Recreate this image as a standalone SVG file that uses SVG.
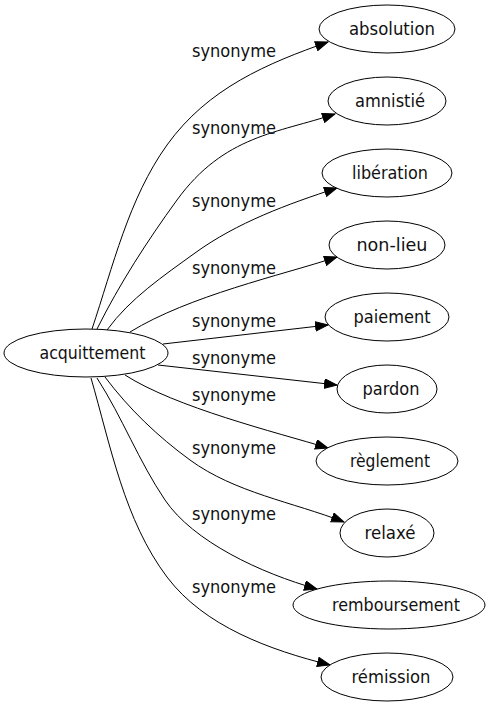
<svg xmlns="http://www.w3.org/2000/svg" width="487" height="707" viewBox="0 0 487 707">
<style>
  .node ellipse { fill: #ffffff; stroke: #000000; stroke-width: 1; }
  .node text, .lbl { font-family: "DejaVu Sans Condensed", "DejaVu Sans", sans-serif; font-size: 18px; fill: #111111; text-anchor: middle; }
  .edge { fill: none; stroke: #000000; stroke-width: 1; marker-end: url(#arr); }
</style>
<defs>
  <marker id="arr" markerWidth="15" markerHeight="11" refX="13" refY="5" orient="auto" markerUnits="userSpaceOnUse">
    <path d="M0.5,0.3 L13,5 L0.5,9.7 Z" fill="#000000" stroke="#000000" stroke-width="1"/>
  </marker>
</defs>
<rect x="0" y="0" width="487" height="707" fill="#ffffff"/>
<g id="connectors">
  <path class="edge" d="M92,329 C113,266.5 128.5,198.7 167,145 C207.9,88 267.7,63.2 328,42"/>
  <path class="edge" d="M97,329 C119.8,283.4 147,241.3 177,200 C224,135.3 278,133 335,114"/>
  <path class="edge" d="M107,330 C130,298.4 163.4,275.9 195,253 C237,222.5 287.6,204.1 337,188"/>
  <path class="edge" d="M130,332 C189.5,295.6 280,275.6 337,257"/>
  <path class="edge" d="M163,344 L328,325"/>
  <path class="edge" d="M158,365 L337,385"/>
  <path class="edge" d="M125,375 C175.4,407.4 275.4,432.1 328,448"/>
  <path class="edge" d="M105,377 C129,409 157.7,436.4 190,460 C234.4,492.5 293,502.2 344,522"/>
  <path class="edge" d="M97,378 C122.4,417.5 138.7,461.1 165,500 C193,541.4 260.4,573.1 317,589"/>
  <path class="edge" d="M91,378 C110.7,446.2 124.3,520.3 167,577 C204.3,626.5 270,650 330,665"/>
  <text class="lbl" x="234" y="57" textLength="84" lengthAdjust="spacingAndGlyphs">synonyme</text>
  <text class="lbl" x="234" y="134" textLength="84" lengthAdjust="spacingAndGlyphs">synonyme</text>
  <text class="lbl" x="234" y="207" textLength="84" lengthAdjust="spacingAndGlyphs">synonyme</text>
  <text class="lbl" x="234" y="274" textLength="84" lengthAdjust="spacingAndGlyphs">synonyme</text>
  <text class="lbl" x="234" y="327" textLength="84" lengthAdjust="spacingAndGlyphs">synonyme</text>
  <text class="lbl" x="234" y="364" textLength="84" lengthAdjust="spacingAndGlyphs">synonyme</text>
  <text class="lbl" x="234" y="401" textLength="84" lengthAdjust="spacingAndGlyphs">synonyme</text>
  <text class="lbl" x="234" y="454" textLength="84" lengthAdjust="spacingAndGlyphs">synonyme</text>
  <text class="lbl" x="234" y="520" textLength="84" lengthAdjust="spacingAndGlyphs">synonyme</text>
  <text class="lbl" x="234" y="593" textLength="84" lengthAdjust="spacingAndGlyphs">synonyme</text>
</g>
<g id="node-acquittement" class="node">
  <ellipse cx="86" cy="353" rx="82" ry="24"/>
  <text x="92.5" y="358.5" textLength="106" lengthAdjust="spacingAndGlyphs">acquittement</text>
</g>
<g id="node-absolution" class="node">
  <ellipse cx="387" cy="29" rx="68" ry="24"/>
  <text x="392" y="34.5" textLength="86" lengthAdjust="spacingAndGlyphs">absolution</text>
</g>
<g id="node-amnistie" class="node">
  <ellipse cx="387" cy="101" rx="59" ry="24"/>
  <text x="390" y="106.5" textLength="70" lengthAdjust="spacingAndGlyphs">amnistié</text>
</g>
<g id="node-liberation" class="node">
  <ellipse cx="387" cy="173" rx="65" ry="24"/>
  <text x="390" y="178.5" textLength="76" lengthAdjust="spacingAndGlyphs">libération</text>
</g>
<g id="node-non-lieu" class="node">
  <ellipse cx="387" cy="245" rx="58" ry="24"/>
  <text x="392" y="250.5" textLength="71" lengthAdjust="spacingAndGlyphs">non-lieu</text>
</g>
<g id="node-paiement" class="node">
  <ellipse cx="387" cy="317" rx="62" ry="24"/>
  <text x="392" y="322.5" textLength="77" lengthAdjust="spacingAndGlyphs">paiement</text>
</g>
<g id="node-pardon" class="node">
  <ellipse cx="387" cy="389" rx="50" ry="24"/>
  <text x="391" y="394.5" textLength="57" lengthAdjust="spacingAndGlyphs">pardon</text>
</g>
<g id="node-reglement" class="node">
  <ellipse cx="387" cy="461" rx="71" ry="24"/>
  <text x="390" y="466.5" textLength="80" lengthAdjust="spacingAndGlyphs">règlement</text>
</g>
<g id="node-relaxe" class="node">
  <ellipse cx="387" cy="533" rx="47" ry="24"/>
  <text x="390" y="538.5" textLength="51" lengthAdjust="spacingAndGlyphs">relaxé</text>
</g>
<g id="node-remboursement" class="node">
  <ellipse cx="389" cy="605" rx="96" ry="24"/>
  <text x="396" y="610.5" textLength="128" lengthAdjust="spacingAndGlyphs">remboursement</text>
</g>
<g id="node-remission" class="node">
  <ellipse cx="387" cy="677" rx="66" ry="24"/>
  <text x="391" y="682.5" textLength="79" lengthAdjust="spacingAndGlyphs">rémission</text>
</g>
</svg>
